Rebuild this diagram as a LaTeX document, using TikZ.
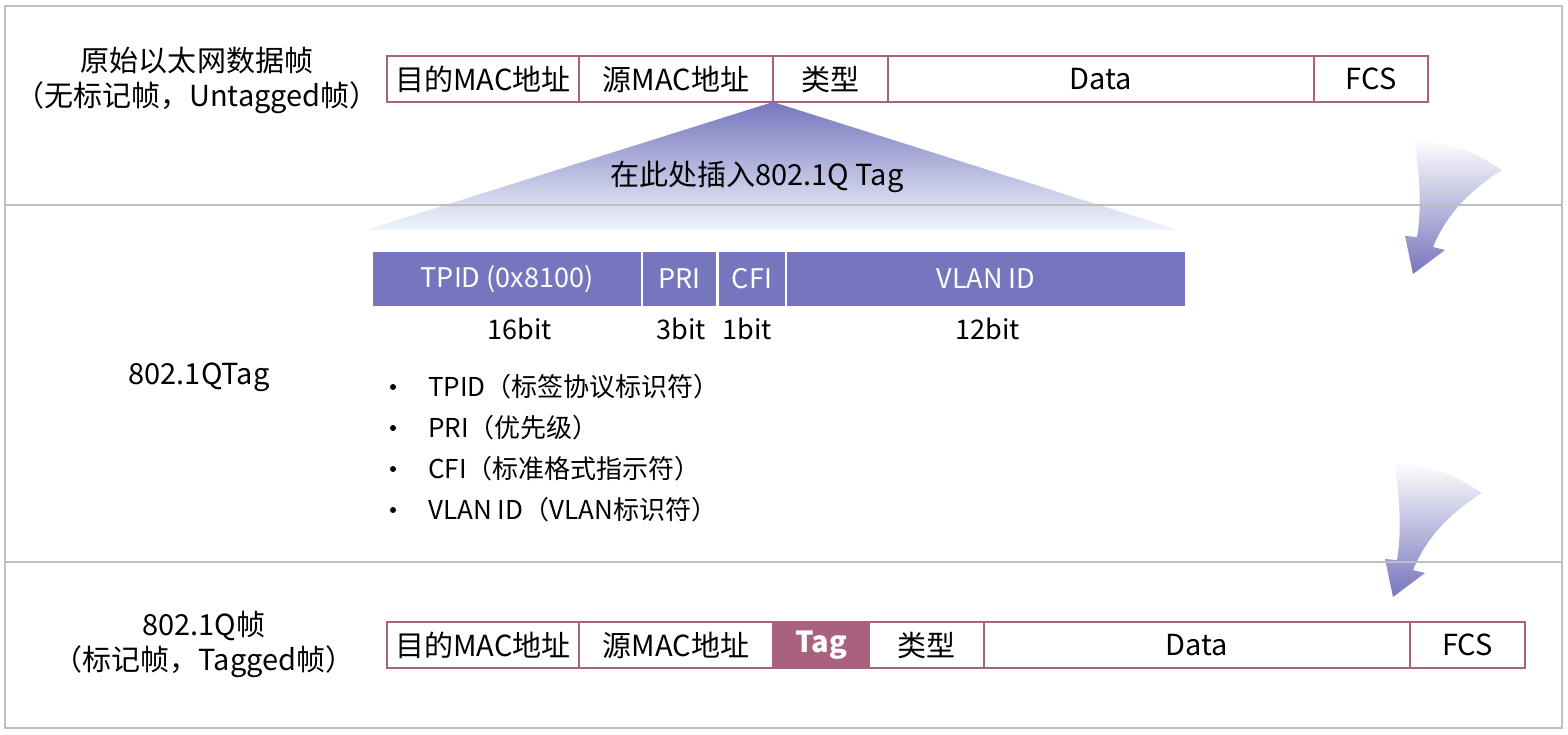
\documentclass[tikz,border=0pt]{standalone}
\usepackage{fontspec}
\setmainfont{Noto Sans CJK SC}
\usetikzlibrary{positioning}
\definecolor{framered}{RGB}{168,98,126}
\definecolor{tagblue}{RGB}{118,118,190}
\definecolor{paleblue}{RGB}{240,246,251}
\definecolor{panelgray}{RGB}{191,191,191}
\tikzset{field/.style = {draw=framered, line width=2.5, outer sep=0, inner sep=0,
                         minimum height=46, anchor=west,
                         font=\fontsize{29}{30}\selectfont}}
\tikzset{tagfield/.style = {fill=tagblue, text=white, outer sep=0, inner sep=0,
                            minimum height=54, anchor=west,
                            font=\fontsize{27}{30}\selectfont}}
\tikzset{caption/.style = {align=center, inner sep=0,
                           font=\fontsize{29}{35}\selectfont}}
\tikzset{bits/.style = {inner sep=0, font=\fontsize{27}{30}\selectfont}}
\tikzset{item/.style = {inner sep=0, anchor=west, font=\fontsize{26}{30}\selectfont}}
\tikzset{circ/.style = {fill, circle, inner sep = 0, minimum size = 6}}

\begin{document}
\begin{tikzpicture}[x=1pt, y=-1pt]
          \useasboundingbox (0,0) rectangle (1568,734);
          % original frame
          \node [field, minimum width=192] (dst) at (387,79) {目的MAC地址};
          \node [field, minimum width=194, right=0pt of dst] (src) {源MAC地址};
          \node [field, minimum width=115, right=0pt of src] (type) {类型};
          \node [field, minimum width=426, right=0pt of type] (data) {Data};
          \node [field, minimum width=114, right=0pt of data] (fcs) {FCS};
          \node [caption] (untagged) at (197,80) {原始以太网数据帧\\（无标记帧，Untagged帧）};
          % where the tag goes
          \coordinate (insl) at (366,230);
          \coordinate (insr) at (1178,230);
          \shade [top color=tagblue, bottom color=paleblue] (src.south east) -- (insr) -- (insl) -- cycle;
          \node [caption] (insert) at (757,177) {在此处插入802.1Q Tag};
          % the tag
          \node [tagfield, minimum width=268] (tpid) at (373,279) {TPID (0x8100)};
          \node [tagfield, minimum width=73, right=2pt of tpid] (pri) {PRI};
          \node [tagfield, minimum width=66, right=3pt of pri] (cfi) {CFI};
          \node [tagfield, minimum width=398, right=2pt of cfi] (vid) {VLAN ID};
          \node [bits] (tpidbits) at (520,329) {16bit};
          \node [bits] (pribits) at (681,329) {3bit};
          \node [bits] (cfibits) at (747,329) {1bit};
          \node [bits] (vidbits) at (988,329) {12bit};
          \node [caption] (tagname) at (199,377) {802.1QTag};
          \foreach \txt [count=\i] in {TPID（标签协议标识符）, PRI（优先级）,
                                       CFI（标准格式指示符）, VLAN ID（VLAN标识符）} {
            \node [item] (item\i) at (428,346+41*\i) {\txt};
            \node [circ] (dot\i) at (393,346+41*\i) {};
          }
          % tagged frame
          \node [field, minimum width=192] (tdst) at (387,645) {目的MAC地址};
          \node [field, minimum width=194, right=0pt of tdst] (tsrc) {源MAC地址};
          \node [field, minimum width=96, fill=framered, text=white, font=\fontsize{29}{30}\selectfont\bfseries,
                 right=0pt of tsrc] (ttag) {Tag};
          \node [field, minimum width=115, right=0pt of ttag] (ttype) {类型};
          \node [field, minimum width=426, right=0pt of ttype] (tdata) {Data};
          \node [field, minimum width=115, right=0pt of tdata] (tfcs) {FCS};
          \node [caption] (tagged) at (204,644) {802.1Q帧\\（标记帧，Tagged帧）};
          % bent arrows
          \foreach \dx/\dy in {0/0, -20/323} {
            \begin{scope}[shift={(\dx,\dy)}]
              \shade [top color=white, bottom color=tagblue]
                (1414,138) .. controls (1421,180) and (1421,215) .. (1417,237)
                -- (1405,236) -- (1413,274) -- (1445,250) -- (1433,247)
                .. controls (1446,215) and (1470,190) .. (1502,170)
                .. controls (1470,150) .. cycle;
            \end{scope}
          }
          % panels
          \draw [panelgray, line width=2] (5,6) rectangle (1562,728);
          \draw [panelgray, line width=2] (5,205) -- (1562,205);
          \draw [panelgray, line width=2] (5,562) -- (1562,562);
        \end{tikzpicture}
\end{document}
